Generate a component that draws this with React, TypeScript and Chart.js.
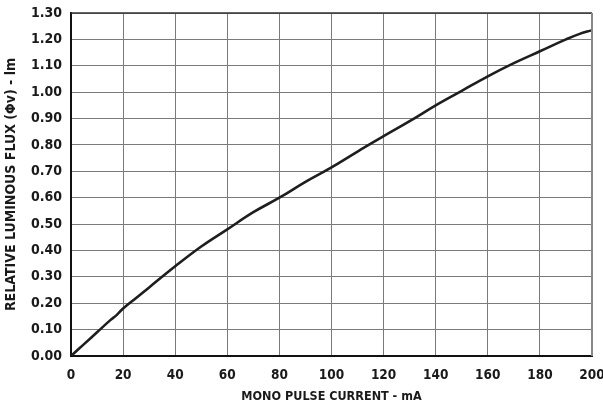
import React, { useEffect, useRef } from "react";
import { Chart, registerables } from "chart.js";

Chart.register(...registerables);

const currentMA = [0, 5, 10, 15, 17.5, 20, 25, 30, 40, 50, 60, 70, 80, 90, 100, 110, 120, 130, 140, 150, 160, 170, 180, 190, 195, 200];
const relFlux = [0, 0.045, 0.09, 0.135, 0.155, 0.18, 0.22, 0.26, 0.34, 0.415, 0.48, 0.545, 0.6, 0.66, 0.715, 0.775, 0.833, 0.89, 0.95, 1.005, 1.06, 1.11, 1.155, 1.2, 1.22, 1.235];

const FONT = "'DejaVu Sans Condensed', 'Liberation Sans Narrow', sans-serif";

export default function App() {
  const ref = useRef<HTMLCanvasElement>(null);
  useEffect(() => {
    const ctx = ref.current!;
    const chart = new Chart(ctx, {
      type: "line",
      data: {
        datasets: [
          {
            data: currentMA.map((x, i) => ({ x, y: relFlux[i] })),
            borderColor: "#1e1e1e",
            borderWidth: 2.6,
            pointRadius: 0,
            tension: 0.4,
            fill: false,
          },
        ],
      },
      options: {
        animation: false,
        responsive: false,
        devicePixelRatio: 1,
        layout: { padding: { top: 13, right: 11, left: 0, bottom: 0 } },
        plugins: { legend: { display: false }, tooltip: { enabled: false } },
        scales: {
          x: {
            type: "linear",
            min: 0,
            max: 200,
            ticks: {
              stepSize: 20,
              color: "#1a1a1a",
              font: { family: FONT, size: 13.5, weight: "bold" },
              padding: 11,
              maxRotation: 0,
            },
            grid: { color: "#7a7a7a", lineWidth: 1, drawTicks: false },
            border: { color: "#111", width: 2 },
            title: {
              display: true,
              text: "MONO PULSE CURRENT - mA",
              color: "#1a1a1a",
              font: { family: FONT, size: 12.5, weight: "bold" },
              padding: { top: 8, bottom: 15 },
            },
            afterFit: (s: any) => {
              s.height = 63;
              s.paddingLeft = 0;
              s.paddingRight = 0;
            },
          },
          y: {
            type: "linear",
            min: 0,
            max: 1.3,
            ticks: {
              stepSize: 0.1,
              color: "#1a1a1a",
              font: { family: FONT, size: 14, weight: "bold" },
              padding: 9,
              callback: (v: any) => Number(v).toFixed(2),
            },
            grid: { color: "#7a7a7a", lineWidth: 1, drawTicks: false },
            border: { color: "#111", width: 2 },
            title: {
              display: true,
              text: "RELATIVE LUMINOUS FLUX (Φv) - lm",
              color: "#1a1a1a",
              font: { family: FONT, size: 14, weight: "bold" },
              padding: { top: 3, bottom: 6 },
            },
            afterFit: (s: any) => {
              s.width = 71;
              s.paddingTop = 0;
              s.paddingBottom = 0;
            },
          },
        },
      },
      plugins: [
        {
          id: "frame",
          afterDraw(c: any) {
            const { left, top, right, bottom } = c.chartArea;
            const g = c.ctx;
            g.save();
            g.strokeStyle = "#333";
            g.lineWidth = 1.5;
            g.beginPath();
            g.moveTo(left, top);
            g.lineTo(right, top);
            g.stroke();
            g.strokeStyle = "#888";
            g.lineWidth = 2;
            g.beginPath();
            g.moveTo(right, top);
            g.lineTo(right, bottom);
            g.stroke();
            g.restore();
          },
        },
      ],
    });
    return () => chart.destroy();
  }, []);
  return (
    <div style={{ position: "fixed", left: 0, top: 0, width: 603, height: 419, background: "#fff" }}>
      <canvas ref={ref} width={603} height={419} style={{ width: 603, height: 419 }} />
    </div>
  );
}
